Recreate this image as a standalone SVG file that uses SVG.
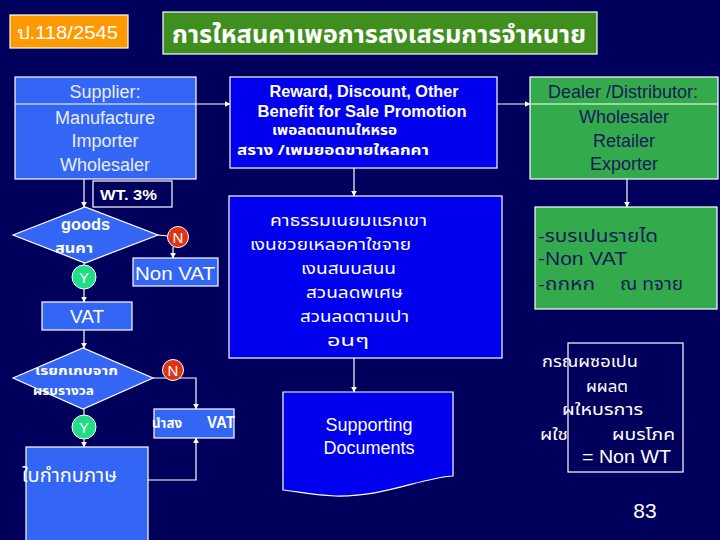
<svg xmlns="http://www.w3.org/2000/svg" width="720" height="540" viewBox="0 0 720 540">
<defs>
<marker id="ah" viewBox="0 0 10 10" refX="9" refY="5" markerWidth="6" markerHeight="6" orient="auto" markerUnits="userSpaceOnUse">
<path d="M0,0 L10,5 L0,10 Z" fill="#ffffff"/>
</marker>
<style>
.t{font-family:"Liberation Sans",Arial,sans-serif;}
.th{font-family:"Noto Sans Thai","Loma","Tlwg Typo","Liberation Sans","DejaVu Sans",sans-serif;}
.w{fill:#ffffff;}
.lw{fill:#e8eeff;}
.dk{fill:#1a1a5a;}
.b{font-weight:bold;}
.mb{fill:#3366f5;stroke:#ffffff;stroke-width:1.2;}
.db{fill:#0000ee;stroke:#ffffff;stroke-width:1.2;}
.gb{fill:#33aa4c;stroke:#ffffff;stroke-width:1.2;}
.cn{fill:none;stroke:#ffffff;stroke-width:1.2;}
.ca{fill:none;stroke:#ffffff;stroke-width:1.2;marker-end:url(#ah);}
</style>
</defs>
<rect x="0" y="0" width="720" height="540" fill="#00005c"/>

<g id="code">
<rect x="10" y="15" width="118" height="33" fill="#ff9900" stroke="#ffffff" stroke-width="1.2"/>
<text x="17" y="39" class="t w" font-size="18" textLength="101" lengthAdjust="spacingAndGlyphs">ป.118/2545</text>
</g>
<g id="title">
<rect x="163" y="12" width="434" height="42" fill="#3f8f1f" stroke="#ffffff" stroke-width="1.2"/>
<text x="172" y="43" class="th w b" font-size="25" textLength="414" lengthAdjust="spacingAndGlyphs">การใหสนคาเพอการสงเสรมการจำหนาย</text>
</g>

<g id="connectors">
<line x1="196" y1="104" x2="230" y2="104" class="ca"/>
<line x1="497" y1="104" x2="530" y2="104" class="ca"/>
<line x1="84" y1="179" x2="84" y2="207" class="ca"/>
<line x1="158" y1="235" x2="168" y2="236" class="cn"/>
<line x1="173" y1="247" x2="173" y2="258" class="ca"/>
<line x1="84" y1="263" x2="84" y2="265" class="cn"/>
<line x1="84" y1="289" x2="84" y2="302" class="ca"/>
<line x1="84" y1="330" x2="84" y2="348" class="ca"/>
<polyline points="153,378 196,378 196,409" class="ca"/>
<line x1="84" y1="409" x2="84" y2="415" class="cn"/>
<line x1="84" y1="439" x2="84" y2="447" class="ca"/>
<polyline points="148,480 196,480 196,438" class="ca"/>
<line x1="354" y1="168" x2="354" y2="196" class="ca"/>
<line x1="354" y1="358" x2="354" y2="392" class="ca"/>
<line x1="627" y1="179" x2="627" y2="207" class="ca"/>
</g>

<g id="supplier">
<rect x="15" y="77" width="181" height="102" class="mb"/>
<line x1="15" y1="104" x2="196" y2="104" stroke="#ffffff" stroke-width="1.2"/>
<g class="t lw" font-size="18" text-anchor="middle">
<text x="105" y="98">Supplier:</text>
<text x="105" y="124">Manufacture</text>
<text x="105" y="147">Importer</text>
<text x="105" y="171">Wholesaler</text>
</g>
</g>

<g id="reward">
<rect x="230" y="77" width="267" height="91" class="db"/>
<text x="364" y="97" class="t w b" font-size="16" text-anchor="middle" textLength="189" lengthAdjust="spacingAndGlyphs">Reward, Discount, Other</text>
<text x="362" y="117" class="t w b" font-size="16" text-anchor="middle" textLength="209" lengthAdjust="spacingAndGlyphs">Benefit for Sale Promotion</text>
<text x="272" y="135" class="th w b" font-size="14" textLength="125" lengthAdjust="spacingAndGlyphs">เพอลดตนทนใหหรอ</text>
<text x="237" y="155" class="th w b" font-size="14" textLength="192" lengthAdjust="spacingAndGlyphs">สราง  /เพมยอดขายใหลกคา</text>
</g>

<g id="dealer">
<rect x="530" y="77" width="188" height="102" class="gb"/>
<line x1="530" y1="104" x2="718" y2="104" stroke="#ffffff" stroke-width="1.2"/>
<g class="t dk" font-size="18" text-anchor="middle">
<text x="623" y="98">Dealer /Distributor:</text>
<text x="624" y="123">Wholesaler</text>
<text x="624" y="147">Retailer</text>
<text x="624" y="170">Exporter</text>
</g>
</g>

<g id="wt">
<rect x="93" y="181" width="79" height="26" fill="#00005c" stroke="#ffffff" stroke-width="1.2"/>
<text x="100" y="200" class="t w b" font-size="15" textLength="57" lengthAdjust="spacingAndGlyphs">WT. 3%</text>
</g>

<g id="goods">
<polygon points="13,235 85,207 158,235 85,263" class="mb"/>
<text x="61" y="230" class="t w b" font-size="17" textLength="49" lengthAdjust="spacingAndGlyphs">goods</text>
<text x="55" y="253" class="th w b" font-size="14" textLength="38" lengthAdjust="spacingAndGlyphs">สนคา</text>
</g>

<g id="n1">
<circle cx="178" cy="237" r="10.5" fill="#dd3311" stroke="#ffffff" stroke-width="1"/>
<text x="178" y="243" class="t w" font-size="15" text-anchor="middle">N</text>
</g>
<g id="nonvat">
<rect x="133" y="258" width="85" height="28" class="mb"/>
<text x="175" y="280" class="t w" font-size="19" text-anchor="middle" textLength="80" lengthAdjust="spacingAndGlyphs">Non VAT</text>
</g>
<g id="y1">
<circle cx="84" cy="277" r="12" fill="#22dd88" stroke="#ffffff" stroke-width="1"/>
<text x="84" y="283" class="t w" font-size="15" text-anchor="middle">Y</text>
</g>
<g id="vat">
<rect x="42" y="302" width="90" height="28" class="mb"/>
<text x="87" y="323" class="t w" font-size="19" text-anchor="middle">VAT</text>
</g>

<g id="collect">
<polygon points="13,378 83,348 153,378 83,409" class="mb"/>
<text x="35" y="375" class="th w b" font-size="13" textLength="83" lengthAdjust="spacingAndGlyphs">เรยกเกบจาก</text>
<text x="33" y="395" class="th w b" font-size="13" textLength="61" lengthAdjust="spacingAndGlyphs">ผรบรางวล</text>
</g>
<g id="n2">
<circle cx="173" cy="370" r="10.5" fill="#dd3311" stroke="#ffffff" stroke-width="1"/>
<text x="173" y="376" class="t w" font-size="15" text-anchor="middle">N</text>
</g>
<g id="remit">
<rect x="154" y="409" width="80" height="29" class="mb"/>
<text x="152" y="428" class="th w b" font-size="14" textLength="30" lengthAdjust="spacingAndGlyphs">นำสง</text>
<text x="207" y="428" class="t w b" font-size="16" textLength="28" lengthAdjust="spacingAndGlyphs">VAT</text>
</g>
<g id="y2">
<circle cx="84" cy="427" r="12" fill="#22dd88" stroke="#ffffff" stroke-width="1"/>
<text x="84" y="433" class="t w" font-size="15" text-anchor="middle">Y</text>
</g>
<g id="invoice">
<rect x="26" y="447" width="122" height="100" class="mb"/>
<text x="22" y="482" class="th w" font-size="19" textLength="95" lengthAdjust="spacingAndGlyphs">ใบกำกบภาษ</text>
</g>

<g id="fees">
<rect x="229" y="196" width="273" height="162" class="db"/>
<g class="th w" font-size="16">
<text x="270" y="226" textLength="157" lengthAdjust="spacingAndGlyphs">คาธรรมเนยมแรกเขา</text>
<text x="250" y="250" textLength="161" lengthAdjust="spacingAndGlyphs">เงนชวยเหลอคาใชจาย</text>
<text x="301" y="274" textLength="95" lengthAdjust="spacingAndGlyphs">เงนสนบสนน</text>
<text x="306" y="298" textLength="97" lengthAdjust="spacingAndGlyphs">สวนลดพเศษ</text>
<text x="300" y="322" textLength="109" lengthAdjust="spacingAndGlyphs">สวนลดตามเปา</text>
<text x="327" y="346" textLength="42" lengthAdjust="spacingAndGlyphs">อนๆ</text>
</g>
</g>

<g id="docs">
<path d="M283,392 L453,392 L453,476 C420,478 385,497 335,496 C310,495 295,491 283,490 Z" class="db"/>
<text x="369" y="431" class="t w" font-size="18" text-anchor="middle">Supporting</text>
<text x="369" y="454" class="t w" font-size="18" text-anchor="middle">Documents</text>
</g>

<g id="income">
<rect x="535" y="207" width="182" height="102" class="gb"/>
<g class="th dk" font-size="17">
<text x="538" y="242" textLength="120" lengthAdjust="spacingAndGlyphs">-รบรเปนรายได</text>
<text x="538" y="265" class="t" font-size="18" textLength="89" lengthAdjust="spacingAndGlyphs">-Non VAT</text>
<text x="538" y="290" textLength="57" lengthAdjust="spacingAndGlyphs">-ถกหก</text>
<text x="620" y="290" textLength="63" lengthAdjust="spacingAndGlyphs">ณ ทจาย</text>
</g>
</g>

<g id="nonwt">
<rect x="568" y="343" width="115" height="129" fill="none" stroke="#ffffff" stroke-width="1.2"/>
<g class="th w" font-size="16">
<text x="542" y="367" textLength="96" lengthAdjust="spacingAndGlyphs">กรณผซอเปน</text>
<text x="586" y="392" textLength="42" lengthAdjust="spacingAndGlyphs">ผผลต</text>
<text x="562" y="415" textLength="81" lengthAdjust="spacingAndGlyphs">ผใหบรการ</text>
<text x="540" y="440" textLength="28" lengthAdjust="spacingAndGlyphs">ผใช</text>
<text x="612" y="440" textLength="63" lengthAdjust="spacingAndGlyphs">ผบรโภค</text>
<text x="582" y="463" class="t" font-size="18" textLength="89" lengthAdjust="spacingAndGlyphs">= Non WT</text>
</g>
</g>

<text x="645" y="518" class="t w" font-size="21" text-anchor="middle">83</text>
</svg>
